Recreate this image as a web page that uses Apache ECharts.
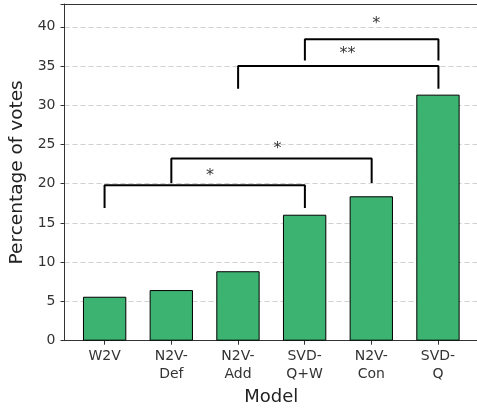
<!DOCTYPE html>
<html>
<head>
<meta charset="utf-8">
<script src="https://cdn.jsdelivr.net/npm/echarts@6/dist/echarts.min.js"></script>
<style>
  html, body { margin: 0; padding: 0; background: #fff; }
  #chart { width: 477px; height: 410px; }
</style>
</head>
<body>
<div id="chart"></div>
<script>
// Models and share of votes (%)
const categories = ['W2V', 'N2V-\nDef', 'N2V-\nAdd', 'SVD-\nQ+W', 'N2V-\nCon', 'SVD-\nQ'];
const votes = [5.6, 6.45, 8.85, 16.05, 18.4, 31.35];

// Significance brackets: endpoints (category index), bar height, leg bottom, marker and its position
const bracketFrom = [0, 1, 2, 3];
const bracketTo = [3, 4, 5, 5];
const bracketTop = [19.8, 23.2, 35.0, 38.4];
const bracketLegBottom = [16.9, 20.1, 32.1, 35.7];
const bracketMarks = ['*', '*', '**', '*'];
const bracketMarkX = [1.58, 2.59, 3.64, 4.07];
const bracketMarkY = [21.0, 24.5, 36.5, 40.4];

const yTicks = [0, 5, 10, 15, 20, 25, 30, 35, 40];

const font = 'DejaVu Sans';
const chart = echarts.init(document.getElementById('chart'), null, { renderer: 'canvas' });

const bracketSeries = bracketFrom.map((a, i) => ({
  type: 'line',
  xAxisIndex: 0,
  yAxisIndex: 0,
  silent: true,
  symbol: 'none',
  lineStyle: { color: '#000', width: 2 },
  data: [
    [a, bracketLegBottom[i]],
    [a, bracketTop[i]],
    [bracketTo[i], bracketTop[i]],
    [bracketTo[i], bracketLegBottom[i]]
  ],
  z: 5
}));

const markSeries = {
  type: 'scatter',
  xAxisIndex: 0,
  yAxisIndex: 0,
  silent: true,
  symbolSize: 0,
  data: bracketMarks.map((m, i) => [bracketMarkX[i], bracketMarkY[i], m]),
  label: {
    show: true,
    position: 'inside',
    formatter: p => p.value[2],
    color: '#000',
    fontSize: 16,
    fontFamily: font
  },
  z: 6
};

chart.setOption({
  animation: false,
  textStyle: { fontFamily: font },
  grid: [
    { left: 64.5, top: 4, width: 414, bottom: 69.3, containLabel: false, outerBoundsMode: 'none' },
    { left: 71.3, top: 4, width: 400, bottom: 69.3, containLabel: false, outerBoundsMode: 'none' }
  ],
  xAxis: [
    {
      type: 'value', gridIndex: 0, min: -0.6, max: 5.6,
      axisLine: { show: true, onZero: false, lineStyle: { color: '#333', width: 1 } },
      axisTick: { show: false }, axisLabel: { show: false }, splitLine: { show: false }
    },
    {
      type: 'category', gridIndex: 1, data: categories,
      axisLine: { show: false },
      axisTick: { show: true, alignWithLabel: true, length: 4, lineStyle: { color: '#333' } },
      axisLabel: { fontSize: 14, color: '#333', margin: 7, lineHeight: 17.5, fontFamily: font },
      name: 'Model', nameLocation: 'middle', nameGap: 48,
      nameTextStyle: { fontSize: 18, color: '#222', fontFamily: font }
    },
    {
      type: 'value', gridIndex: 0, position: 'top', min: -0.6, max: 5.6,
      axisLine: { show: true, onZero: false, lineStyle: { color: '#333', width: 1 } },
      axisTick: { show: false }, axisLabel: { show: false }, splitLine: { show: false }
    }
  ],
  yAxis: [
    {
      type: 'value', gridIndex: 0, min: 0, max: 42.9, interval: 5,
      axisLine: { show: true, onZero: false, lineStyle: { color: '#333', width: 1 } },
      axisTick: { show: true, length: 4, lineStyle: { color: '#333' } },
      axisLabel: {
        fontSize: 14, color: '#333', margin: 9, fontFamily: font,
        formatter: v => (yTicks.indexOf(v) >= 0 ? String(v) : '')
      },
      splitLine: { show: true, lineStyle: { color: '#d0d0d0', type: [5, 3], width: 1 } },
      name: 'Percentage of votes', nameLocation: 'middle', nameGap: 38,
      nameTextStyle: { fontSize: 18.5, color: '#222', fontFamily: font }
    },
    {
      type: 'value', gridIndex: 1, min: 0, max: 42.9,
      show: false, splitLine: { show: false }
    }
  ],
  series: [
    {
      type: 'bar',
      xAxisIndex: 1,
      yAxisIndex: 1,
      data: votes,
      barWidth: '65%',
      itemStyle: { color: '#3cb371', borderColor: '#000', borderWidth: 1 },
      z: 3
    },
    ...bracketSeries,
    markSeries
  ]
});
</script>
</body>
</html>
